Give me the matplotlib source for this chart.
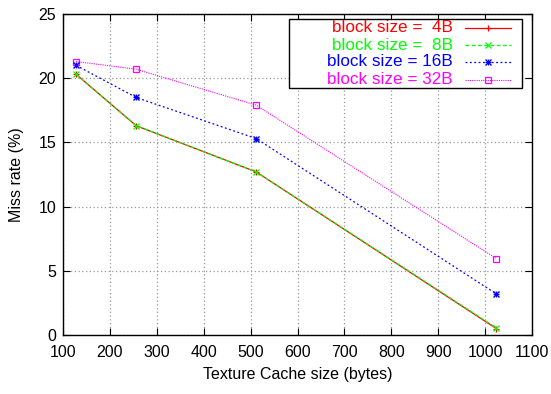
import matplotlib
matplotlib.use("Agg")
import matplotlib.pyplot as plt

cache_size = [128, 256, 512, 1024]
miss_4b = [20.3, 16.3, 12.7, 0.5]
miss_8b = [20.3, 16.3, 12.7, 0.55]
miss_16b = [21.0, 18.5, 15.3, 3.2]
miss_32b = [21.3, 20.7, 17.9, 5.95]
labels = ["block size =  4B", "block size =  8B", "block size = 16B", "block size = 32B"]
colors = ["#ff0000", "#00ff00", "#0000ff", "#ff00ff"]

plt.rcParams["font.family"] = ["Liberation Sans", "DejaVu Sans"]
plt.rcParams["font.size"] = 11.5

W, H = 551, 394
L, R, T, B = 63, 532, 14, 335
fig = plt.figure(figsize=(W / 100, H / 100), dpi=100)
ax = fig.add_axes([L / W, 1 - B / H, (R - L) / W, (B - T) / H])


def ax_xy(px, py):
    # pixel position in the picture -> axes fraction
    return (px - L) / (R - L), (B - py) / (B - T)


styles = [
    dict(ls="-", lw=0.9, marker="+", ms=5, mew=0.9),
    dict(ls=(0, (3, 2)), lw=0.9, marker="x", ms=4, mew=0.9),
    dict(ls=(0, (1.5, 2)), lw=0.9, marker="+", ms=5, mew=1.0),
    dict(ls=(0, (1, 1)), lw=0.8, marker="s", ms=5, mfc="none", mew=0.9),
]
series = [miss_4b, miss_8b, miss_16b, miss_32b]

for ys, c, st in zip(series, colors, styles):
    ax.plot(cache_size, ys, color=c, **st)
# gnuplot's star point for the 16B curve: overlay an x on the plus
ax.plot(cache_size, miss_16b, ls="none", color=colors[2], marker="x", ms=4, mew=1.0)

ax.set_xlim(100, 1100)
ax.set_ylim(0, 25)
ax.set_xticks(range(100, 1101, 100))
ax.set_yticks(range(0, 26, 5))
ax.tick_params(direction="in", top=True, right=True, length=5, width=0.8, labelsize=11.5)
ax.tick_params(axis="x", pad=7)
ax.tick_params(axis="y", pad=5)
ax.grid(True, color="#999999", ls=(0, (1, 2)), lw=0.9)
for s in ax.spines.values():
    s.set_linewidth(1.0)

ax.set_xlabel("Texture Cache size (bytes)", labelpad=5)
ax.set_ylabel("Miss rate (%)", labelpad=10)

# legend drawn gnuplot style: right aligned coloured text, sample line to the right
x0, y0 = ax_xy(289, 88)
x1, y1 = ax_xy(522, 19)
ax.add_patch(plt.Rectangle((x0, y0), x1 - x0, y1 - y0, transform=ax.transAxes,
                           facecolor="white", edgecolor="black", lw=1.0, zorder=5))
row_y = [28, 45, 62, 80]
tx, _ = ax_xy(453, 0)
la, _ = ax_xy(465, 0)
lb, _ = ax_xy(511, 0)
lm, _ = ax_xy(488, 0)
for i, (lab, c, st) in enumerate(zip(labels, colors, styles)):
    _, yy = ax_xy(0, row_y[i])
    ax.text(tx, yy, lab, color=c, ha="right", va="center", fontsize=12.3,
            transform=ax.transAxes, zorder=6)
    line_st = {k: v for k, v in st.items() if k in ("ls", "lw")}
    ax.plot([la, lb], [yy, yy], color=c, transform=ax.transAxes, clip_on=False, zorder=6, **line_st)
    mk_st = {k: v for k, v in st.items() if k not in ("ls", "lw")}
    ax.plot([lm], [yy], color=c, ls="none", transform=ax.transAxes, clip_on=False, zorder=6, **mk_st)
    if i == 2:
        ax.plot([lm], [yy], color=c, ls="none", marker="x", ms=4, mew=1.0,
                transform=ax.transAxes, clip_on=False, zorder=6)

fig.savefig("out.png", dpi=100)
